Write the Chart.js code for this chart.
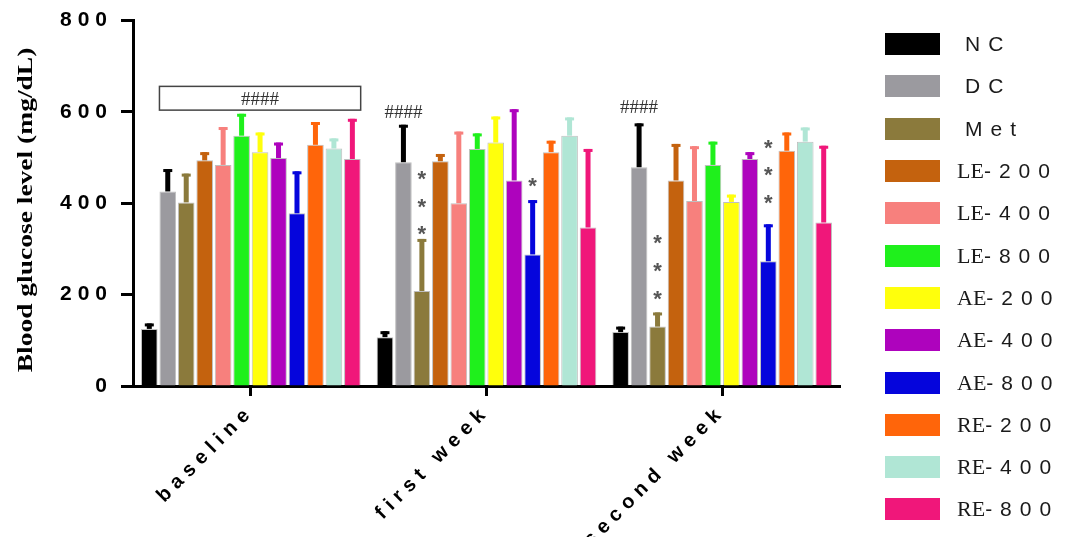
<!DOCTYPE html>
<html>
<head>
<meta charset="utf-8">
<script src="https://cdn.jsdelivr.net/npm/chart.js@4.4.1/dist/chart.umd.min.js"></script>
<style>
  body { margin: 0; background: #fff; }
  #wrap { position: relative; width: 1067px; height: 537px; }
  #legend { position: absolute; left: 885px; top: 23px; margin: 0; padding: 0; list-style: none; }
  #legend li { display: flex; align-items: center; height: 42.3px; }
  #legend .box { width: 55px; height: 22px; margin-right: 17px; }
  #legend .txt { font: 21px "Liberation Sans"; letter-spacing: 8px; color: #1a1a1a; white-space: nowrap; }
  #legend .ser { font-family: "Liberation Serif"; letter-spacing: 0; font-size: 22px; }
  #legend .pad { padding-left: 8px; }
</style>
</head>
<body>
<div id="wrap">
  <canvas id="glucoseChart" width="1067" height="537"></canvas>
  <ul id="legend"></ul>
</div>
<script>
const groups = ['baseline', 'first week', 'second week'];
const seriesNames = ['NC', 'DC', 'Met', 'LE-200', 'LE-400', 'LE-800', 'AE-200', 'AE-400', 'AE-800', 'RE-200', 'RE-400', 'RE-800'];

// mean blood glucose (mg/dL) and SD per group
const nc = [125, 107, 118];      const ncSd = [12, 13, 12];
const dc = [426, 490, 479];      const dcSd = [49, 82, 96];
const met = [402, 208, 130];     const metSd = [63, 114, 31];
const le200 = [494, 492, 450];   const le200Sd = [18, 16, 80];
const le400 = [484, 400, 405];   const le400Sd = [83, 157, 120];
const le800 = [548, 519, 484];   const le800Sd = [48, 34, 51];
const ae200 = [512, 533, 403];   const ae200Sd = [43, 57, 16];
const ae400 = [499, 450, 497];   const ae400Sd = [34, 156, 15];
const ae800 = [378, 288, 273];   const ae800Sd = [92, 119, 81];
const re200 = [528, 512, 515];   const re200Sd = [50, 25, 40];
const re400 = [520, 548, 535];   const re400Sd = [22, 40, 31];
const re800 = [497, 347, 358];   const re800Sd = [88, 172, 168];

const yTicks = [0, 200, 400, 600, 800];

// significance marks
const hashBox = [604, 656];            // "####" box over baseline (DC..RE-800)
const dcHash = [null, 598, 608];       // "####" above DC
const metStars = [[], [344, 403, 465], [201, 262, 324]];
const ae800Stars = [[], [448], [412, 472, 533]];

const means = [nc, dc, met, le200, le400, le800, ae200, ae400, ae800, re200, re400, re800];
const sds = [ncSd, dcSd, metSd, le200Sd, le400Sd, le800Sd, ae200Sd, ae400Sd, ae800Sd, re200Sd, re400Sd, re800Sd];
const colors = ['#000000', '#9b9a9f', '#8b7a3c', '#c4620e', '#f7807d', '#1ff01c', '#ffff0c', '#ae03bd', '#0505dc', '#ff650a', '#b0e6d5', '#f0177a'];
const errColors = colors.map((c, i) => i === 1 ? '#000000' : c);

const extras = {
  id: 'extras',
  beforeDraw(chart) {
    chart.ctx.letterSpacing = '6px';
  },
  afterDatasetsDraw(chart) {
    const ctx = chart.ctx;
    const y = chart.scales.y;
    ctx.save();
    ctx.letterSpacing = '0px';

    // error bars
    chart.data.datasets.forEach((ds, i) => {
      chart.getDatasetMeta(i).data.forEach((bar, j) => {
        const top = y.getPixelForValue(ds.data[j] + sds[i][j]);
        ctx.fillStyle = errColors[i];
        ctx.fillRect(bar.x - 2.5, top, 5, bar.y - top);
        ctx.fillRect(bar.x - 4.5, top, 9, 3);
      });
    });

    ctx.fillStyle = '#333';
    ctx.textAlign = 'center';
    ctx.textBaseline = 'middle';

    // box over baseline
    const first = chart.getDatasetMeta(1).data[0];
    const last = chart.getDatasetMeta(11).data[0];
    const bx0 = first.x - first.width / 2;
    const bx1 = last.x + last.width / 2;
    const by0 = y.getPixelForValue(hashBox[1]);
    const by1 = y.getPixelForValue(hashBox[0]);
    ctx.strokeStyle = '#444';
    ctx.lineWidth = 1.5;
    ctx.strokeRect(bx0, by0, bx1 - bx0, by1 - by0);
    ctx.font = '19px "Liberation Serif"';
    ctx.fillText('####', (bx0 + bx1) / 2, (by0 + by1) / 2 + 2);

    // #### above DC
    dcHash.forEach((v, j) => {
      if (v == null) return;
      const bar = chart.getDatasetMeta(1).data[j];
      ctx.fillText('####', bar.x, y.getPixelForValue(v));
    });

    // stars
    ctx.font = 'bold 22px "Liberation Sans"';
    ctx.fillStyle = '#555';
    [[2, metStars], [8, ae800Stars]].forEach(([idx, marks]) => {
      marks.forEach((vals, j) => {
        const bar = chart.getDatasetMeta(idx).data[j];
        vals.forEach(v => ctx.fillText('*', bar.x, y.getPixelForValue(v) + 6));
      });
    });

    ctx.restore();
    ctx.letterSpacing = '7px';
  },
  afterDraw(chart) {
    const ctx = chart.ctx;
    ctx.save();
    ctx.letterSpacing = '0px';
    ctx.translate(26, 210);
    ctx.rotate(-Math.PI / 2);
    ctx.scale(1.25, 1);
    ctx.font = 'bold 22px "Liberation Serif"';
    ctx.fillStyle = '#000';
    ctx.textAlign = 'center';
    ctx.textBaseline = 'middle';
    ctx.fillText('Blood glucose level (mg/dL)', 0, 0);
    ctx.restore();
  }
};

new Chart(document.getElementById('glucoseChart'), {
  type: 'bar',
  data: {
    labels: groups,
    datasets: seriesNames.map((name, i) => ({
      label: name,
      data: means[i],
      backgroundColor: colors[i],
      borderColor: 'rgba(0,0,0,0.25)',
      borderWidth: 1,
      categoryPercentage: 0.94,
      barPercentage: 0.9
    }))
  },
  options: {
    responsive: false,
    animation: false,
    layout: { padding: { top: 17, right: 227, bottom: 0, left: 0 } },
    plugins: {
      legend: { display: false },
      tooltip: { enabled: false }
    },
    scales: {
      x: {
        z: 1,
        offset: true,
        grid: { offset: false, drawOnChartArea: false, tickLength: 10, tickWidth: 3, tickColor: '#000' },
        border: { width: 3, color: '#000' },
        ticks: { color: '#000', font: { family: 'Liberation Sans', size: 20, weight: 'bold' }, minRotation: 45, maxRotation: 45, autoSkip: false, padding: 4 },
        afterFit(scale) { scale.height = 151; }
      },
      y: {
        min: 0,
        max: 800,
        afterBuildTicks(scale) { scale.ticks = yTicks.map(v => ({ value: v })); },
        grid: { drawOnChartArea: false, tickLength: 12, tickWidth: 3, tickColor: '#000' },
        border: { width: 3, color: '#000' },
        ticks: { color: '#000', font: { family: 'Liberation Sans', size: 21, weight: 'bold' }, padding: 8 },
        afterFit(scale) { scale.width = 133; }
      }
    }
  },
  plugins: [extras]
});

document.getElementById('legend').innerHTML = seriesNames.map((name, i) => {
  const k = name.indexOf('-');
  const ser = k > 0 ? name.slice(0, k) : '';
  const rest = k > 0 ? name.slice(k) : name;
  const cls = k > 0 ? 'txt' : 'txt pad';
  return `<li><span class="box" style="background:${colors[i]}"></span><span class="${cls}"><span class="ser">${ser}</span>${rest}</span></li>`;
}).join('');
</script>
</body>
</html>
